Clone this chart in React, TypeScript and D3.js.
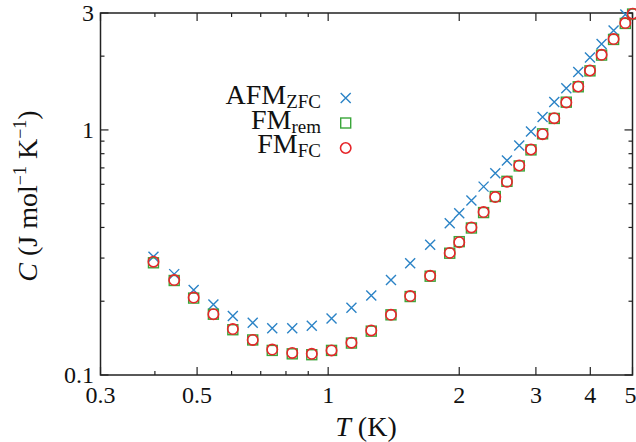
import React from 'react';
import * as d3 from 'd3';

const temperatures = [0.397, 0.443, 0.491, 0.545, 0.604, 0.671, 0.744, 0.827, 0.917, 1.018, 1.131, 1.256, 1.394, 1.543, 1.715, 1.902, 2.0, 2.133, 2.275, 2.42, 2.574, 2.747, 2.923, 3.108, 3.306, 3.523, 3.753, 3.993, 4.246, 4.524, 4.813, 5.003];
const afmZFC = [0.304, 0.258, 0.222, 0.194, 0.174, 0.1635, 0.155, 0.155, 0.159, 0.17, 0.188, 0.211, 0.244, 0.286, 0.34, 0.416, 0.457, 0.515, 0.587, 0.666, 0.75, 0.864, 0.985, 1.128, 1.299, 1.481, 1.722, 1.975, 2.24, 2.546, 2.96, null];
const fmRem = [0.287, 0.243, 0.206, 0.177, 0.153, 0.139, 0.126, 0.122, 0.121, 0.126, 0.135, 0.151, 0.176, 0.209, 0.253, 0.314, 0.35, 0.398, 0.46, 0.535, 0.617, 0.713, 0.829, 0.964, 1.114, 1.298, 1.5, 1.742, 2.02, 2.34, 2.72, 2.97];
const fmFC = [0.29, 0.244, 0.207, 0.177, 0.154, 0.139, 0.127, 0.123, 0.122, 0.126, 0.1355, 0.152, 0.176, 0.21, 0.254, 0.315, 0.348, 0.4, 0.462, 0.532, 0.614, 0.716, 0.832, 0.961, 1.117, 1.294, 1.504, 1.748, 2.026, 2.349, 2.73, 2.979];

const xMajorTicks = [0.3, 0.5, 1, 2, 3, 4, 5];
const xMinorTicks = [0.4, 0.6, 0.7, 0.8, 0.9];
const yMajorTicks = [0.1, 1, 3];
const yMinorTicks = [0.2, 0.3, 0.4, 0.5, 0.6, 0.7, 0.8, 0.9, 2];

const W = 636, H = 442;
const L = 100.5, R = 632.5, T = 13, B = 375;
const BLUE = '#2b83c6', GREEN = '#3aa63a', RED = '#e6262a';
const FONT = "'Liberation Serif', 'DejaVu Serif', serif";

export default function App() {
  const x = d3.scaleLog().domain([0.3, 5]).range([L, R]);
  const y = d3.scaleLog().domain([0.1, 3]).range([B, T]);
  const fmt = (v: number) => String(v);
  const axisColor = '#222';

  const cross = (cx: number, cy: number, k: string) => (
    <path key={k} d={`M${cx - 5},${cy - 5}L${cx + 5},${cy + 5}M${cx - 5},${cy + 5}L${cx + 5},${cy - 5}`} stroke={BLUE} strokeWidth={1.4} fill="none" />
  );
  const square = (cx: number, cy: number, k: string) => (
    <rect key={k} x={cx - 5} y={cy - 5} width={10} height={10} stroke={GREEN} strokeWidth={1.4} fill="none" />
  );
  const circle = (cx: number, cy: number, k: string) => (
    <circle key={k} cx={cx} cy={cy} r={5.2} stroke={RED} strokeWidth={1.6} fill="none" />
  );

  return (
    <svg width={W} height={H} style={{ position: 'absolute', left: 0, top: 0, background: '#fff', fontFamily: FONT }}>
      {/* ticks */}
      {xMajorTicks.map((v, i) => (
        <g key={'xM' + i}>
          <line x1={x(v)} x2={x(v)} y1={B} y2={B - 8} stroke={axisColor} strokeWidth={1.2} />
          <line x1={x(v)} x2={x(v)} y1={T} y2={T + 8} stroke={axisColor} strokeWidth={1.2} />
          <text x={i === xMajorTicks.length - 1 ? x(v) - 2 : x(v)} y={403} textAnchor="middle" fontSize={24} fill="#111">{fmt(v)}</text>
        </g>
      ))}
      {xMinorTicks.map((v, i) => (
        <g key={'xm' + i}>
          <line x1={x(v)} x2={x(v)} y1={B} y2={B - 4} stroke={axisColor} strokeWidth={1.2} />
          <line x1={x(v)} x2={x(v)} y1={T} y2={T + 4} stroke={axisColor} strokeWidth={1.2} />
        </g>
      ))}
      {yMajorTicks.map((v, i) => (
        <g key={'yM' + i}>
          <line x1={L} x2={L + 8} y1={y(v)} y2={y(v)} stroke={axisColor} strokeWidth={1.2} />
          <line x1={R} x2={R - 8} y1={y(v)} y2={y(v)} stroke={axisColor} strokeWidth={1.2} />
          <text x={94} y={y(v) + 8} textAnchor="end" fontSize={24} fill="#111">{fmt(v)}</text>
        </g>
      ))}
      {yMinorTicks.map((v, i) => (
        <g key={'ym' + i}>
          <line x1={L} x2={L + 4} y1={y(v)} y2={y(v)} stroke={axisColor} strokeWidth={1.2} />
          <line x1={R} x2={R - 4} y1={y(v)} y2={y(v)} stroke={axisColor} strokeWidth={1.2} />
        </g>
      ))}
      <rect x={L} y={T} width={R - L} height={B - T} fill="none" stroke={axisColor} strokeWidth={1.5} />

      {/* data */}
      {temperatures.map((t, i) => afmZFC[i] == null ? null : cross(x(t), y(afmZFC[i] as number), 'a' + i))}
      {temperatures.map((t, i) => square(x(t), y(fmRem[i]), 's' + i))}
      {temperatures.map((t, i) => circle(x(t), y(fmFC[i]), 'c' + i))}

      {/* legend */}
      <text x={321} y={104} textAnchor="end" fontSize={28} fill="#111">AFM<tspan fontSize={19} dy={4}>ZFC</tspan></text>
      <text x={321} y={128.5} textAnchor="end" fontSize={28} fill="#111">FM<tspan fontSize={19} dy={4}>rem</tspan></text>
      <text x={321} y={153} textAnchor="end" fontSize={28} fill="#111">FM<tspan fontSize={19} dy={4}>FC</tspan></text>
      {cross(345.7, 98, 'la')}
      {square(345.7, 123, 'ls')}
      {circle(345.7, 148, 'lc')}

      {/* axis titles */}
      <text x={366} y={436} textAnchor="middle" fontSize={28} fill="#111"><tspan fontStyle="italic">T</tspan> (K)</text>
      <text transform="translate(37,196) rotate(-90)" textAnchor="middle" fontSize={28} fill="#111">
        <tspan fontStyle="italic">C</tspan> (J mol<tspan fontSize={18} dy={-11}>−1</tspan><tspan dy={11}> K</tspan><tspan fontSize={18} dy={-11}>−1</tspan><tspan dy={11}>)</tspan>
      </text>
    </svg>
  );
}
